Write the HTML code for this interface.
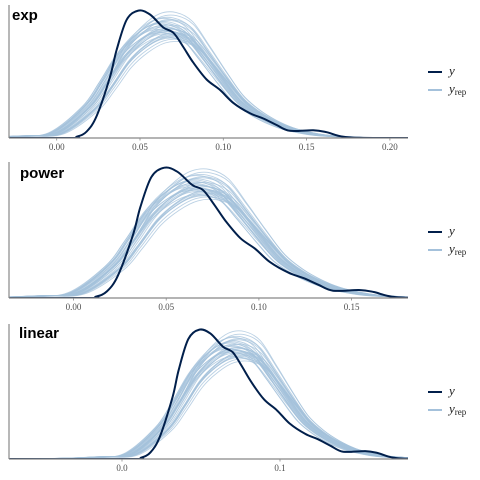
<!DOCTYPE html>
<html><head><meta charset="utf-8"><style>
body{margin:0;background:#fff;width:480px;height:480px;overflow:hidden}
svg{display:block}
.tick{font-family:"Liberation Serif",serif;font-size:9px;fill:#4d4d4d}
.title{font-family:"Liberation Sans",sans-serif;font-size:15px;font-weight:bold;fill:#000}
.leg{font-family:"Liberation Serif",serif;font-size:13px;font-style:italic;fill:#222}
</style></head><body>
<svg id="chart" width="480" height="480" viewBox="0 0 480 480"></svg>
<script>
// observed density (x value, relative height)
const obsX = [-0.08,0.005,0.012,0.018,0.024,0.032,0.036,0.042,0.049,0.056,0.064,0.070,0.076,0.082,0.090,0.098,0.106,0.116,0.124,0.132,0.140,0.154,0.162,0.172,0.19,0.25];
const obsY = [0,0,0.01,0.05,0.17,0.47,0.68,0.91,0.98,0.95,0.85,0.81,0.70,0.58,0.45,0.37,0.27,0.19,0.15,0.10,0.055,0.06,0.045,0.01,0,0];
// replicated density mean shape
const repX = [-0.08,-0.045,-0.02,0.0,0.02,0.03,0.04,0.05,0.06,0.07,0.08,0.09,0.10,0.11,0.12,0.13,0.14,0.15,0.16,0.18,0.20,0.25];
const repY = [0,0.004,0.015,0.04,0.24,0.42,0.62,0.75,0.83,0.84,0.78,0.62,0.45,0.29,0.19,0.12,0.07,0.04,0.02,0.005,0,0];
// replicate variations (x shift, height scale)
const repShift = [-0.004,-0.003,-0.0015,0,0.0015,0.003,0.004,-0.0035,0.002,-0.001,0.0035,-0.002,0.001,0.005,-0.005,0.0015,-0.0015,0.003,0,0.002,-0.003,0.004,-0.004,0.001,-0.001,0.0025,-0.002,0.003,0.0005,-0.0005,0.002,-0.0025];
const repScale = [0.96,1.05,0.92,1.0,1.08,0.95,0.9,1.02,1.12,0.98,0.93,1.06,0.97,0.88,0.99,1.15,1.03,0.94,1.1,0.91,1.01,0.96,1.04,1.07,0.95,0.99,1.09,0.92,1.0,0.97,1.03,0.98];
// panels
const panelNames = ["exp","power","linear"];
const panelRepOffset = [0,0.002,0.006];
const tickVals = [[0,0.05,0.10,0.15,0.20],[0,0.05,0.10,0.15],[0,0.1]];
const tickLabels = [["0.00","0.05","0.10","0.15","0.20"],["0.00","0.05","0.10","0.15"],["0.0","0.1"]];
const layout = [
 {top:8,bottom:138,x0:56.7,ppu:1666,tx:12,ty:20,ly:72},
 {top:165,bottom:298,x0:73.5,ppu:1854,tx:20,ty:178,ly:232},
 {top:327,bottom:459,x0:122,ppu:1580,tx:19,ty:338,ly:392}
];
const L=9,R=408;
const NS="http://www.w3.org/2000/svg";
const svg=document.getElementById('chart');
function mk(t,a,p){const e=document.createElementNS(NS,t);for(const k in a)e.setAttribute(k,a[k]);(p||svg).appendChild(e);return e;}
function path(pts){let d="M"+pts[0][0].toFixed(1)+","+pts[0][1].toFixed(1);
 for(let i=0;i<pts.length-1;i++){const p0=pts[Math.max(0,i-1)],p1=pts[i],p2=pts[i+1],p3=pts[Math.min(pts.length-1,i+2)];
  const c1=[p1[0]+(p2[0]-p0[0])/6,p1[1]+(p2[1]-p0[1])/6],c2=[p2[0]-(p3[0]-p1[0])/6,p2[1]-(p3[1]-p1[1])/6];
  d+=" C"+c1[0].toFixed(1)+","+c1[1].toFixed(1)+" "+c2[0].toFixed(1)+","+c2[1].toFixed(1)+" "+p2[0].toFixed(1)+","+p2[1].toFixed(1);}
 return d;}
layout.forEach((ly,pi)=>{
 const g=mk('g',{});
 
 
 const clipId='c'+pi;
 const cp=mk('clipPath',{id:clipId},g);mk('rect',{x:L,y:ly.top-5,width:R-L,height:ly.bottom-ly.top+5},cp);
 const sx=v=>ly.x0+v*ly.ppu;
 const sy=h=>ly.bottom-h*(ly.bottom-ly.top);
 const cg=mk('g',{'clip-path':'url(#'+clipId+')'},g);
 repShift.forEach((s,ri)=>{
  const pts=repX.map((x,i)=>[sx(x+s+panelRepOffset[pi]),sy(repY[i]*repScale[ri])]);
  const p=mk('path',{d:path(pts),fill:'none',stroke:'#a4c1db','stroke-width':0.9,'stroke-opacity':0.75},cg);
  
  
 });
 const op=mk('path',{d:path(obsX.map((x,i)=>[sx(x),sy(obsY[i])])),fill:'none',stroke:'#011f4b','stroke-width':2},cg);
 
 
 const ax=mk('line',{x1:L,x2:R,y1:ly.bottom,y2:ly.bottom,stroke:'#888','stroke-width':1.2},g);
 
 
 const ay=mk('line',{x1:L,x2:L,y1:ly.top-3,y2:ly.bottom,stroke:'#888','stroke-width':1.2},g);
 
 
 tickVals[pi].forEach((v,ti)=>{
  mk('line',{x1:sx(v),x2:sx(v),y1:ly.bottom,y2:ly.bottom+2.5,stroke:'#888','stroke-width':0.8},g);
  const t=mk('text',{x:sx(v),y:ly.bottom+12,'text-anchor':'middle',class:'tick'},g);t.textContent=tickLabels[pi][ti];
  
  
 });
 const tt=mk('text',{x:ly.tx,y:ly.ty,class:'title'},g);tt.textContent=panelNames[pi];
 
 
 const lg=mk('g',{},g);
 
 
 mk('line',{x1:428,x2:442,y1:ly.ly,y2:ly.ly,stroke:'#011f4b','stroke-width':2},lg);
 const t1=mk('text',{x:449,y:ly.ly+3,class:'leg'},lg);t1.textContent='y';
 
 
 mk('line',{x1:428,x2:442,y1:ly.ly+18,y2:ly.ly+18,stroke:'#a4c1db','stroke-width':2},lg);
 const t2=mk('text',{x:449,y:ly.ly+21,class:'leg'},lg);
 
 
 t2.appendChild(document.createTextNode('y'));
 const sub=mk('tspan',{'font-size':'9','font-style':'normal',dy:'2'},t2);sub.textContent='rep';
});
</script>
</body></html>
